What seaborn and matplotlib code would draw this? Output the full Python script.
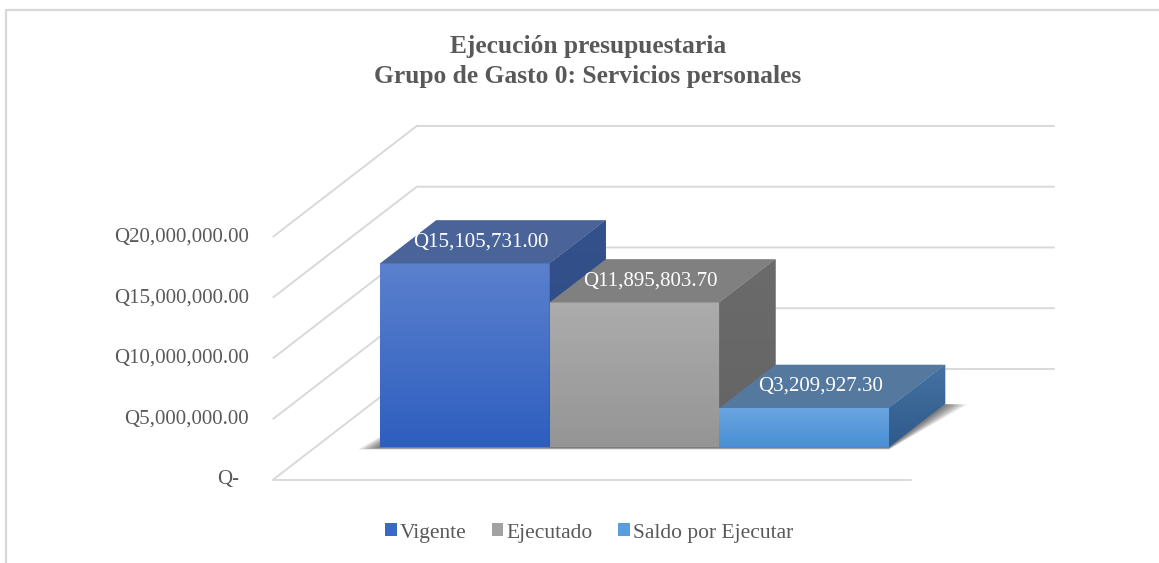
import numpy as np
import matplotlib
matplotlib.use("Agg")
import matplotlib.pyplot as plt
from matplotlib.patches import Polygon, Patch
from matplotlib.lines import Line2D
from matplotlib.colors import LinearSegmentedColormap
import seaborn as sns

# ---------------- data ----------------
categories = ["Vigente", "Ejecutado", "Saldo por Ejecutar"]
values = [15105731.00, 11895803.70, 3209927.30]
tick_values = [0, 5_000_000, 10_000_000, 15_000_000, 20_000_000]
tick_labels = ["Q-", "Q5,000,000.00", "Q10,000,000.00", "Q15,000,000.00", "Q20,000,000.00"]
title_lines = ["Ejecución presupuestaria", "Grupo de Gasto 0: Servicios personales"]

# ---------------- styles ----------------
front_top = ["#5b81ce", "#acacac", "#6aa6e1"]
front_bot = ["#2e5ebf", "#959595", "#4a8ed5"]
top_col = ["#4a6398", "#808080", "#55789f"]
side_top = ["#34518c", "#6b6b6b", "#4572a2"]
side_bot = ["#2f4a85", "#646464", "#2f5a8b"]
legend_col = ["#3a68c6", "#a2a2a2", "#5a9ddf"]
TXT = "#595959"
GRID = "#d9d9d9"

W, H = 1159, 563
sns.set_theme(style="white")
plt.rcParams["font.family"] = ["Liberation Serif", "DejaVu Serif"]

fig = plt.figure(figsize=(W / 100, H / 100), dpi=100)
fig.patch.set_facecolor("white")

# axes placement (pixels)
ax_left, ax_right, ax_top, ax_bot = 250, 1100, 100, 530
ax = fig.add_axes([ax_left / W, 1 - ax_bot / H, (ax_right - ax_left) / W, (ax_bot - ax_top) / H])
px_per_x = 169.67          # pixels per category unit
px_per_val = 12.15 / 1e6   # pixels per value unit
x0_px, y0_px = 380, 447    # pixel of x=-0.5 / value 0 at bar front

# oblique depth vector (per unit depth)
DX = 144 / px_per_x
DY = 111 / px_per_val
d_front, d_back = -0.297, 0.703
bar_depth = 0.39
x_left, x_right = -0.88, 2.88


def proj(x, v, d):
    return (x + d * DX, v + d * DY)


# ---------------- bars (front faces) ----------------
sns.barplot(x=categories, y=values, hue=categories, palette=legend_col,
            width=1.0, saturation=1, legend=False, ax=ax, edgecolor="none")

# ---------------- walls / gridlines ----------------
for v in tick_values:
    a = proj(x_left, v, d_front)
    b = proj(x_left, v, d_back)
    c = proj(x_right, v, d_back)
    ax.plot([a[0], b[0], c[0]], [a[1], b[1], c[1]], color=GRID, lw=1.4,
            zorder=1, solid_capstyle="butt")
a = proj(x_left, 0, d_front)
b = proj(x_right, 0, d_front)
ax.plot([a[0], b[0]], [a[1], b[1]], color=GRID, lw=1.4, zorder=1)

# y tick labels (at the front edge of the left wall)
for v, lab in zip(tick_values, tick_labels):
    x, y = proj(x_left, v, d_front)
    pad = 34 if lab.endswith("-") else 24
    ax.text(x - pad / px_per_x, y, lab, ha="right", va="center",
            fontsize=15, color=TXT)

# ---------------- 3D faces ----------------
patches = list(ax.patches)
xs0 = [p.get_x() for p in patches]
ws = [p.get_width() for p in patches]
hs = [p.get_height() for p in patches]

# soft floor shadow
xa, xb = min(xs0), max(x + w for x, w in zip(xs0, ws))
n_layers = 9
for k in range(n_layers):
    t = k / (n_layers - 1)
    dn = (1.0 + 1.5 * t) / px_per_val           # below front edge
    ext_l = (2 + 20 * t) / px_per_x              # left extension
    ext_r = (2 + 20 * t) / px_per_x              # right/back extension
    sh = [proj(xa - ext_l, -dn, 0),
          proj(xb, -dn, 0),
          proj(xb + ext_r, -0.3 * dn, bar_depth),
          proj(xa, 0, bar_depth)]
    ax.add_patch(Polygon(sh, closed=True, facecolor="black", alpha=0.075,
                         edgecolor="none", zorder=2))

for i, p in enumerate(patches):
    z = 3 + i
    x0, w, h = xs0[i], ws[i], hs[i]
    p.set_zorder(z)
    # front gradient
    cmap = LinearSegmentedColormap.from_list("f%d" % i, [front_bot[i], front_top[i]])
    grad = np.linspace(0, 1, 256).reshape(-1, 1)
    im = ax.imshow(grad, cmap=cmap, extent=[x0, x0 + w, 0, h], origin="lower",
                   aspect="auto", zorder=z, interpolation="bilinear")
    im.set_clip_path(p)
    # side face
    side = [proj(x0 + w, 0, 0), proj(x0 + w, h, 0),
            proj(x0 + w, h, bar_depth), proj(x0 + w, 0, bar_depth)]
    sp = Polygon(side, closed=True, facecolor=side_top[i], edgecolor="none", zorder=z)
    ax.add_patch(sp)
    cmap_s = LinearSegmentedColormap.from_list("s%d" % i, [side_bot[i], side_top[i]])
    sx = [q[0] for q in side]
    sy = [q[1] for q in side]
    ims = ax.imshow(grad, cmap=cmap_s, extent=[min(sx), max(sx), min(sy), max(sy)],
                    origin="lower", aspect="auto", zorder=z, interpolation="bilinear")
    ims.set_clip_path(sp)
    # top face
    top = [proj(x0, h, 0), proj(x0 + w, h, 0),
           proj(x0 + w, h, bar_depth), proj(x0, h, bar_depth)]
    ax.add_patch(Polygon(top, closed=True, facecolor=top_col[i], edgecolor="none", zorder=z))
    # data label
    lx, ly = proj(x0 + w / 2 - 0.07, h, bar_depth / 2)
    ax.text(lx, ly, "Q{:,.2f}".format(values[i]), ha="center", va="center",
            fontsize=15, color="white", zorder=10)

ax.set_xlim(-0.5 + (ax_left - x0_px) / px_per_x, -0.5 + (ax_right - x0_px) / px_per_x)
ax.set_ylim((y0_px - ax_bot) / px_per_val, (y0_px - ax_top) / px_per_val)
ax.axis("off")

# ---------------- title ----------------
fig.text(588 / W, 1 - 46 / H, title_lines[0], ha="center", va="center",
         fontsize=18.4, fontweight="bold", color=TXT)
fig.text(588 / W, 1 - 76 / H, title_lines[1], ha="center", va="center",
         fontsize=18.4, fontweight="bold", color=TXT)

# ---------------- legend ----------------
handles = [Patch(facecolor=c, edgecolor="none", label=l) for c, l in zip(legend_col, categories)]
fig.legend(handles=handles, loc="center", bbox_to_anchor=(589 / W, 1 - 533 / H),
           ncol=3, frameon=False, fontsize=15.5, handlelength=0.55, handleheight=0.55,
           handletextpad=0.15, columnspacing=1.15, labelcolor=TXT)

# ---------------- chart border (left + top visible) ----------------
fig.add_artist(Line2D([5.5 / W, 5.5 / W], [0, 1 - 9.5 / H], transform=fig.transFigure,
                      color=GRID, lw=1.6))
fig.add_artist(Line2D([5.5 / W, 1], [1 - 9.5 / H, 1 - 9.5 / H], transform=fig.transFigure,
                      color=GRID, lw=1.6))

fig.savefig("out.png", dpi=100, facecolor="white")
